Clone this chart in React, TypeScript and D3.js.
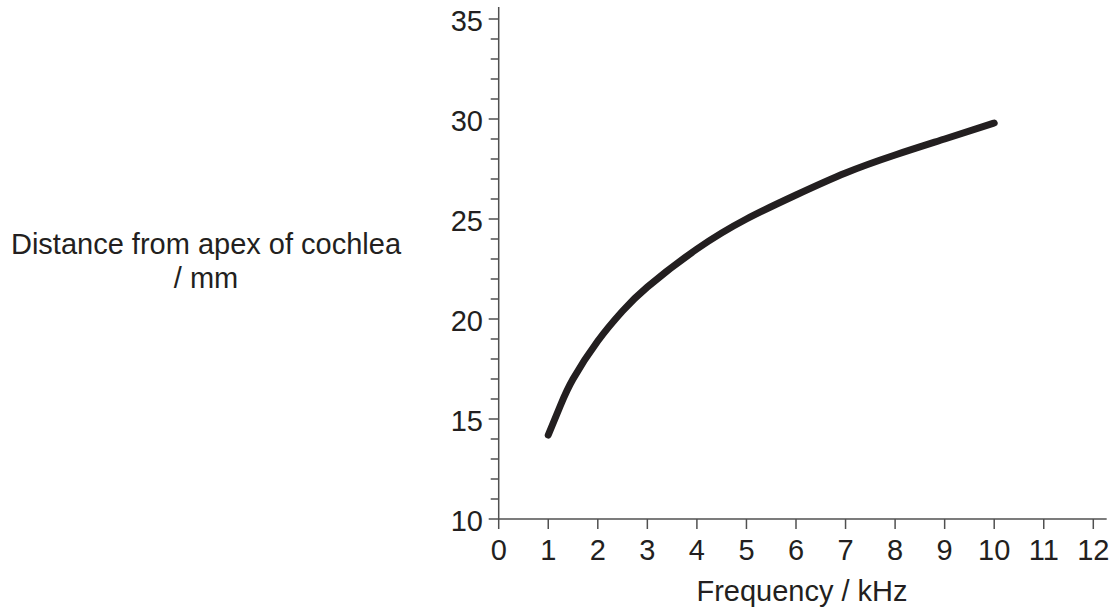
import React, { useEffect, useRef } from 'react'
import * as d3 from 'd3'

// values
const frequency = [1, 1.25, 1.5, 2, 2.5, 3, 4, 5, 6, 7, 8, 9, 10]
const distance = [14.2, 15.7, 17.0, 18.9, 20.4, 21.6, 23.5, 25.0, 26.2, 27.3, 28.2, 29.0, 29.8]
const xTicks = [0, 1, 2, 3, 4, 5, 6, 7, 8, 9, 10, 11, 12]
const yMajorTicks = [10, 15, 20, 25, 30, 35]
const yMinorTicks = d3.range(10, 36, 1)

const WIDTH = 1116
const HEIGHT = 610
const INK = '#231f20'
const AXIS = '#505050'
const FONT = 'Arial, "Liberation Sans", Helvetica, sans-serif'

export default function App() {
  const svgRef = useRef<SVGSVGElement>(null)

  useEffect(() => {
    if (!svgRef.current) return
    const svg = d3.select(svgRef.current)
    svg.selectAll('*').remove()

    const x = d3.scaleLinear().domain([0, 12]).range([498.7, 1093.3])
    const y = d3.scaleLinear().domain([10, 35]).range([519, 19])

    const g = svg.append('g')

    // axis lines
    g.append('line')
      .attr('x1', x(0)).attr('x2', x(12.27))
      .attr('y1', y(10)).attr('y2', y(10))
      .attr('stroke', AXIS).attr('stroke-width', 1.5)
    g.append('line')
      .attr('x1', x(0)).attr('x2', x(0))
      .attr('y1', y(10)).attr('y2', y(35.6))
      .attr('stroke', AXIS).attr('stroke-width', 1.5)

    // x ticks + labels
    g.selectAll('.xtick')
      .data(xTicks)
      .enter().append('line')
      .attr('class', 'xtick')
      .attr('x1', d => x(d)).attr('x2', d => x(d))
      .attr('y1', y(10)).attr('y2', y(10) + 10)
      .attr('stroke', AXIS).attr('stroke-width', 1.5)
    g.selectAll('.xlabel')
      .data(xTicks)
      .enter().append('text')
      .attr('class', 'xlabel')
      .attr('x', d => x(d))
      .attr('y', 560)
      .attr('text-anchor', 'middle')
      .style('font-family', FONT)
      .style('font-size', '29px')
      .style('fill', INK)
      .text(d => d)

    // y ticks (minor + major) + labels
    g.selectAll('.ytick')
      .data(yMinorTicks)
      .enter().append('line')
      .attr('class', 'ytick')
      .attr('x1', d => x(0) - (yMajorTicks.includes(d) ? 10 : 8))
      .attr('x2', x(0))
      .attr('y1', d => y(d)).attr('y2', d => y(d))
      .attr('stroke', AXIS).attr('stroke-width', 1.5)
    g.selectAll('.ylabel')
      .data(yMajorTicks)
      .enter().append('text')
      .attr('class', 'ylabel')
      .attr('x', 483)
      .attr('y', d => y(d) + 12)
      .attr('text-anchor', 'end')
      .style('font-family', FONT)
      .style('font-size', '29px')
      .style('fill', INK)
      .text(d => d)

    // axis titles
    const yTitle = g.append('text')
      .attr('text-anchor', 'middle')
      .style('font-family', FONT)
      .style('font-size', '29px')
      .style('fill', INK)
    yTitle.append('tspan').attr('x', 206).attr('y', 254).text('Distance from apex of cochlea')
    yTitle.append('tspan').attr('x', 206).attr('y', 288).text('/ mm')

    g.append('text')
      .attr('x', 802)
      .attr('y', 601)
      .attr('text-anchor', 'middle')
      .style('font-family', FONT)
      .style('font-size', '29px')
      .style('fill', INK)
      .text('Frequency / kHz')

    // curve
    const line = d3.line<number>()
      .x((d, i) => x(frequency[i]))
      .y(d => y(d))
      .curve(d3.curveNatural)

    g.append('path')
      .datum(distance)
      .attr('d', line)
      .attr('fill', 'none')
      .attr('stroke', INK)
      .attr('stroke-width', 7)
      .attr('stroke-linecap', 'round')
      .attr('stroke-linejoin', 'round')
  }, [])

  return (
    <svg
      ref={svgRef}
      width={WIDTH}
      height={HEIGHT}
      style={{ position: 'absolute', left: 0, top: 0, background: '#fff' }}
    />
  )
}
